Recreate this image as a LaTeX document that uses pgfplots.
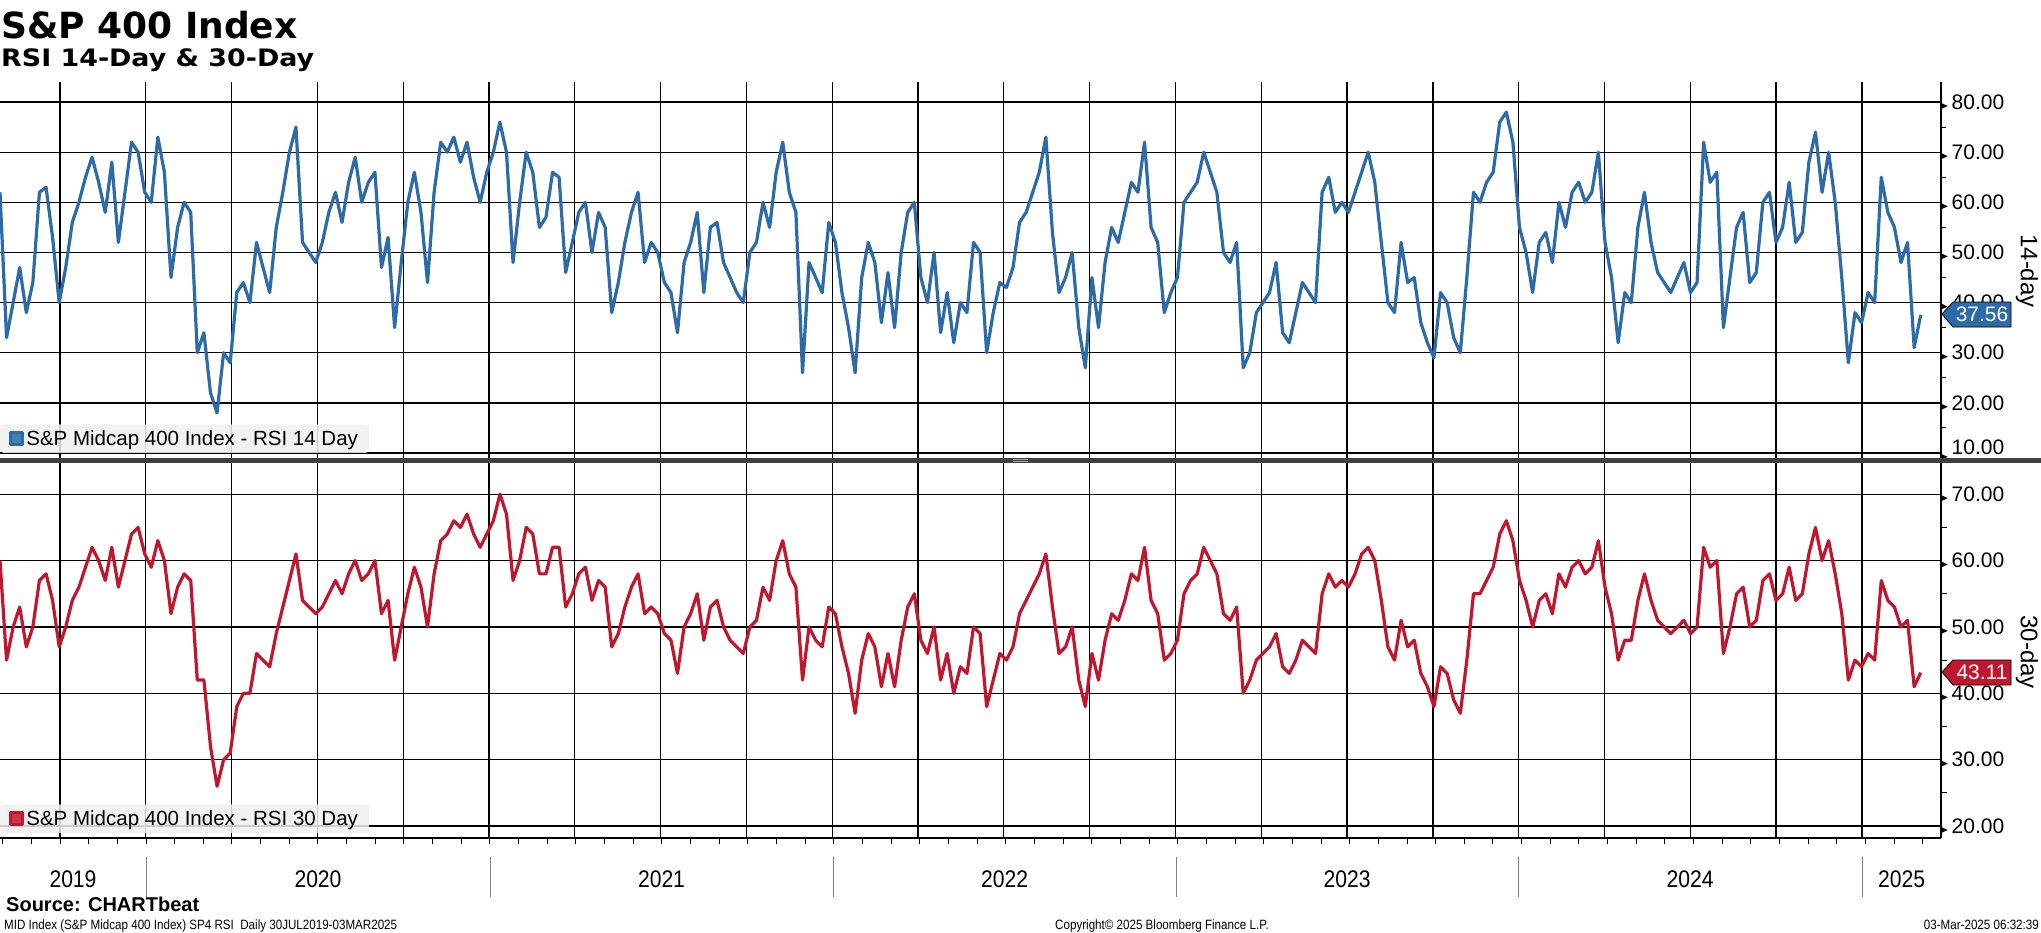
\documentclass[border=0pt]{standalone}
\usepackage{pgfplots}
\usepackage{pgfplotstable}
\pgfplotsset{compat=1.18}
\usepackage{fontspec}
\setmainfont{Liberation Sans}
\newfontfamily\titlefont{DejaVu Sans}

\definecolor{bbblue}{RGB}{44,106,168}
\definecolor{bbred}{RGB}{192,22,46}
\definecolor{sepgray}{RGB}{64,64,64}
\definecolor{legfill}{RGB}{240,240,240}

% weekly readings, 30 Jul 2019 to 3 Mar 2025
\pgfplotstableread[row sep=\\, header=false]{
62\\33\\40\\47\\38\\44\\62\\63\\53\\40\\47\\56\\60\\65\\69\\64\\58\\68\\52\\62\\72\\70\\62\\
60\\73\\66\\45\\55\\60\\58\\30\\34\\22\\18\\30\\28\\42\\44\\40\\52\\47\\42\\55\\62\\70\\75\\52\\50\\48\\
52\\58\\62\\56\\64\\69\\60\\64\\66\\47\\53\\35\\48\\60\\66\\58\\44\\62\\72\\70\\73\\68\\72\\65\\60\\66\\
70\\76\\70\\48\\60\\70\\66\\55\\57\\66\\65\\46\\52\\58\\60\\50\\58\\55\\38\\44\\52\\58\\62\\48\\52\\50\\
44\\42\\34\\48\\52\\58\\42\\55\\56\\48\\45\\42\\40\\50\\52\\60\\55\\66\\72\\62\\58\\26\\48\\45\\42\\56\\
52\\42\\35\\26\\45\\52\\48\\36\\46\\35\\50\\58\\60\\45\\40\\50\\34\\42\\32\\40\\38\\52\\50\\30\\38\\44\\
43\\47\\56\\58\\62\\66\\73\\54\\42\\45\\50\\35\\27\\45\\35\\48\\55\\52\\58\\64\\62\\72\\55\\52\\38\\42\\
45\\60\\62\\64\\70\\66\\62\\50\\48\\52\\27\\30\\38\\40\\42\\48\\34\\32\\38\\44\\42\\40\\62\\65\\58\\60\\
58\\62\\66\\70\\64\\52\\40\\38\\52\\44\\45\\36\\32\\29\\42\\40\\33\\30\\45\\62\\60\\64\\66\\76\\78\\72\\
55\\50\\42\\52\\54\\48\\60\\55\\62\\64\\60\\62\\70\\52\\45\\32\\42\\40\\55\\62\\52\\46\\44\\42\\45\\48\\
42\\44\\72\\64\\66\\35\\45\\55\\58\\44\\46\\60\\62\\52\\55\\64\\52\\54\\68\\74\\62\\70\\60\\45\\28\\38\\36\\
42\\40\\65\\58\\55\\48\\52\\31\\37.56\\
}\rsifourteen

\pgfplotstableread[row sep=\\, header=false]{
60\\45\\50\\53\\47\\50\\57\\58\\54\\47\\50\\54\\56\\59\\62\\60\\57\\62\\56\\60\\64\\65\\61\\
59\\63\\60\\52\\56\\58\\57\\42\\42\\32\\26\\30\\31\\38\\40\\40\\46\\45\\44\\49\\53\\57\\61\\54\\53\\52\\
53\\55\\57\\55\\58\\60\\57\\58\\60\\52\\54\\45\\50\\55\\59\\56\\50\\58\\63\\64\\66\\65\\67\\64\\62\\64\\
66\\70\\67\\57\\60\\65\\64\\58\\58\\62\\62\\53\\55\\58\\59\\54\\57\\56\\47\\49\\53\\56\\58\\52\\53\\52\\
49\\48\\43\\50\\52\\55\\48\\53\\54\\50\\48\\47\\46\\50\\51\\56\\54\\60\\63\\58\\56\\42\\50\\48\\47\\53\\
52\\47\\43\\37\\45\\49\\47\\41\\46\\41\\48\\53\\55\\48\\46\\50\\42\\46\\40\\44\\43\\50\\49\\38\\42\\46\\
45\\47\\52\\54\\56\\58\\61\\53\\46\\47\\50\\42\\38\\46\\42\\48\\52\\51\\54\\58\\57\\62\\54\\52\\45\\46\\
48\\55\\57\\58\\62\\60\\58\\52\\51\\53\\40\\42\\45\\46\\47\\49\\44\\43\\45\\48\\47\\46\\55\\58\\56\\57\\
56\\58\\61\\62\\60\\54\\47\\45\\51\\47\\48\\43\\41\\38\\44\\43\\39\\37\\45\\55\\55\\57\\59\\64\\66\\63\\
57\\54\\50\\54\\55\\52\\58\\56\\59\\60\\58\\59\\63\\56\\52\\45\\48\\48\\54\\58\\54\\51\\50\\49\\50\\51\\
49\\50\\62\\59\\60\\46\\50\\55\\56\\50\\51\\57\\58\\54\\55\\59\\54\\55\\61\\65\\60\\63\\58\\52\\42\\45\\44\\
46\\45\\57\\54\\53\\50\\51\\41\\43.11\\
}\rsithirty

\pgfplotsset{
  bbpanel/.style={
    scale only axis, width=1941pt,
    xmin=2019.5753, xmax=2025.2305,
    separate axis lines,
    axis y line*=right,
    axis x line*=bottom,
    y axis line style={black, line width=1.5pt},
    xtick={2019.75,2020,2020.25,...,2025.1},
    xticklabels={},
    xmajorgrids, ymajorgrids,
    major grid style={black, line width=1.3pt},
    major tick length=0pt,
    minor tick length=5pt,
    tick align=outside,
    ytick style={black, line width=1pt},
    /pgf/number format/assume math mode=true,
    yticklabel style={anchor=west, inner sep=0pt, xshift=0pt,
      font=\fontsize{21}{24}\selectfont},
    yticklabel={\tikz[baseline={(0,-3.3pt)}]\fill (0,3pt)--(6.5pt,0)--(0,-3pt)--cycle;\hspace{4pt}%
      \pgfmathtruncatemacro\tk{\tick}%
      \ifnum\tk<11 \raisebox{6pt}[\height][\depth]{\pgfmathprintnumber[fixed,fixed zerofill,precision=2]{\tick}}%
      \else\pgfmathprintnumber[fixed,fixed zerofill,precision=2]{\tick}\fi},
    legend style={at={(0,0)}, anchor=south west, yshift=5pt,
      fill=legfill, fill opacity=0.85, text opacity=1, draw=none,
      rounded corners=3pt, inner xsep=9pt, inner ysep=4pt,
      font=\fontsize{20.5}{24}\selectfont},
    legend image code/.code={\fill[sharp corners] (0pt,-6pt) rectangle (12pt,6pt);},
    clip mode=individual,
  }
}

\begin{document}
\begin{tikzpicture}
\useasboundingbox (0pt,0pt) rectangle (2041pt,-932pt);

\node[anchor=base west, inner sep=0] at (1pt,-38pt)
  {\titlefont\bfseries\fontsize{36}{40}\selectfont S\&P 400 Index};
\node[anchor=base west, inner sep=0] at (1pt,-66pt)
  {\titlefont\bfseries\fontsize{24}{28}\selectfont\scalebox{1.12}[1]{RSI 14-Day \& 30-Day}};

\begin{axis}[bbpanel,
  at={(0pt,-458pt)}, anchor=south west, height=376pt,
  ymin=9, ymax=84,
  ytick={10,20,...,80}, minor ytick={15,25,...,75},
  x axis line style={draw=none},
]
\addplot[bbblue, line width=3.2pt, line join=round]
  table[x expr={2019.5753+\coordindex*0.019165}, y index=0] {\rsifourteen};
\addlegendentry{S\&P Midcap 400 Index - RSI 14 Day}
\end{axis}

\fill[sepgray] (0pt,-458pt) rectangle (2041pt,-463pt);
\draw[gray!70, line width=0.6pt] (1013pt,-459.6pt) -- (1028pt,-459.6pt) (1013pt,-461.4pt) -- (1028pt,-461.4pt);

\begin{axis}[bbpanel,
  at={(0pt,-838pt)}, anchor=south west, height=375pt,
  ymin=18.2, ymax=74.7,
  ytick={20,30,...,70}, minor ytick={25,35,...,65},
  x axis line style={black, line width=1.5pt},
  minor xtick={2019.5833,2019.6667,...,2025.24},
  xtick style={black, line width=1pt},
  minor tick length=6pt,
]
\addplot[bbred, line width=3.2pt, line join=round]
  table[x expr={2019.5753+\coordindex*0.019165}, y index=0] {\rsithirty};
\addlegendentry{S\&P Midcap 400 Index - RSI 30 Day}
\end{axis}

% last-value tags
\fill[bbblue] (1942pt,-314pt) -- (1953pt,-302pt) -- (2011pt,-302pt) -- (2011pt,-327pt) -- (1953pt,-327pt) -- cycle;
\draw[black, line width=0.8pt] (1942pt,-314pt) -- (1953pt,-302pt) -- (2011pt,-302pt) -- (2011pt,-327pt) -- (1953pt,-327pt) -- cycle;
\node[white, font=\fontsize{21}{24}\selectfont, inner sep=0] at (1982pt,-314.5pt) {37.56};
\fill[bbred] (1942pt,-672pt) -- (1953pt,-660pt) -- (2011pt,-660pt) -- (2011pt,-685pt) -- (1953pt,-685pt) -- cycle;
\draw[black, line width=0.8pt] (1942pt,-672pt) -- (1953pt,-660pt) -- (2011pt,-660pt) -- (2011pt,-685pt) -- (1953pt,-685pt) -- cycle;
\node[white, font=\fontsize{21}{24}\selectfont, inner sep=0] at (1982pt,-672.5pt) {43.11};

\node[rotate=-90, font=\fontsize{24}{28}\selectfont, inner sep=0] at (2027pt,-271pt) {14-day};
\node[rotate=-90, font=\fontsize{24}{28}\selectfont, inner sep=0] at (2027pt,-652pt) {30-day};

% year labels
\foreach \xx in {146,490,833,1176,1518,1862}
  \draw[gray, line width=0.8pt] (\xx pt,-857pt) -- (\xx pt,-897pt);
\foreach \xx/\yy in {73/2019,318/2020,661.5/2021,1004.5/2022,1347/2023,1690/2024,1901.5/2025}
  \node[font=\fontsize{24}{28}\selectfont, inner sep=0] at (\xx pt,-879pt) {\scalebox{0.88}[1]{\yy}};

\node[anchor=base west, inner sep=0] at (6pt,-911pt)
  {\fontsize{20}{24}\selectfont\bfseries Source: CHARTbeat};
\node[anchor=base west, inner sep=0] at (4pt,-929pt)
  {\fontsize{13.5}{16}\selectfont\scalebox{0.86}[1]{MID Index (S\&P Midcap 400 Index) SP4 RSI\ \ Daily 30JUL2019-03MAR2025}};
\node[anchor=base west, inner sep=0] at (1055pt,-929pt)
  {\fontsize{13.5}{16}\selectfont\scalebox{0.86}[1]{Copyright\textcopyright\ 2025 Bloomberg Finance L.P.}};
\node[anchor=base east, inner sep=0] at (2039pt,-929pt)
  {\fontsize{13.5}{16}\selectfont\scalebox{0.86}[1]{03-Mar-2025 06:32:39}};
\end{tikzpicture}
\end{document}
